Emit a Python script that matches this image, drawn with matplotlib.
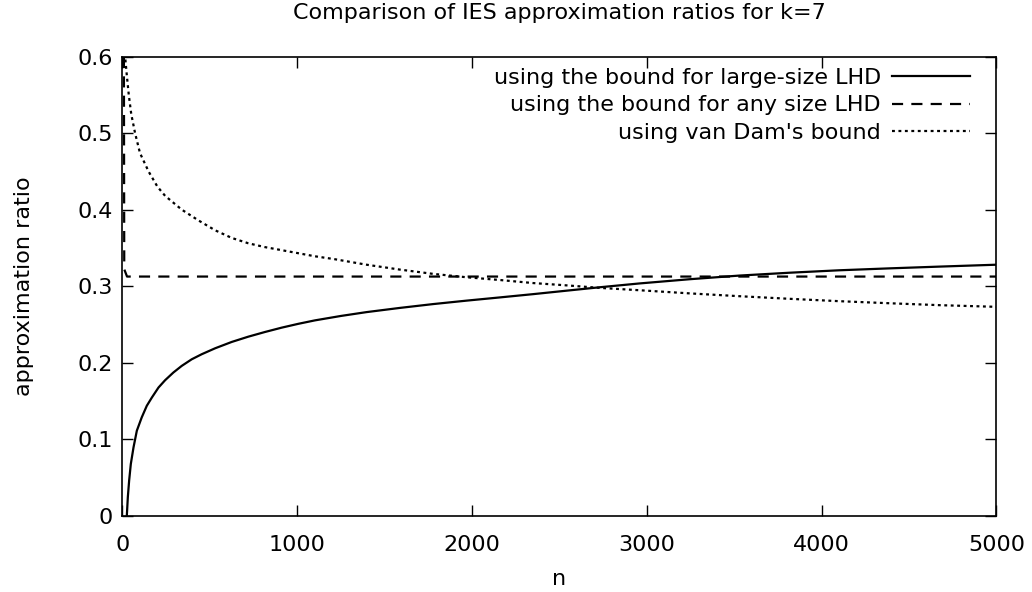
import numpy as np
import matplotlib
matplotlib.use('Agg')
import matplotlib.pyplot as plt

# approximation ratio curves for k=7, read at a set of n values
n_large = [20, 24.8, 30.5, 38, 47.6, 63, 82, 110, 139, 168, 206, 244, 291, 339, 396,
           453, 530, 625, 720, 815, 911, 1006, 1101, 1250, 1396, 1587, 1777, 1968,
           2158, 2349, 2539, 2730, 2958, 3244, 3530, 3815, 4100, 4386, 4672, 5000]
r_large = [-0.03, 0.0, 0.024, 0.0457, 0.0674, 0.0891, 0.1109, 0.1283, 0.1435, 0.1543,
           0.1674, 0.1770, 0.187, 0.1957, 0.2043, 0.2109, 0.2187, 0.2270, 0.2339,
           0.2400, 0.2457, 0.2507, 0.2552, 0.2610, 0.2660, 0.2715, 0.2765, 0.2810,
           0.2852, 0.2895, 0.2940, 0.2985, 0.3035, 0.3090, 0.3138, 0.3175, 0.3207,
           0.3232, 0.3255, 0.3280]

n_any = [6, 8, 10, 26, 5000]
r_any = [0.75, 0.60, 0.322, 0.3125, 0.3125]

n_vdam = [12, 15, 25, 36, 50, 72, 100, 149, 200, 244, 339, 434, 530, 625, 720, 815,
          911, 1006, 1101, 1206, 1396, 1587, 1777, 1968, 2158, 2349, 2539, 2730,
          2958, 3244, 3530, 3815, 4100, 4386, 4672, 5000]
r_vdam = [0.63, 0.60, 0.575, 0.55, 0.525, 0.50, 0.474, 0.45, 0.430, 0.418, 0.400,
          0.386, 0.373, 0.363, 0.356, 0.351, 0.347, 0.343, 0.339, 0.3355, 0.328,
          0.3216, 0.316, 0.3116, 0.308, 0.304, 0.301, 0.2977, 0.2946, 0.2905,
          0.2868, 0.2834, 0.2803, 0.2776, 0.2751, 0.2729]

labels = ['using the bound for large-size LHD',
          'using the bound for any size LHD',
          "using van Dam's bound"]

plt.rcParams['font.family'] = 'DejaVu Sans'
fs = 16

fig = plt.figure(figsize=(10.32, 5.92), dpi=100)
ax = fig.add_axes([0.1187, 0.1292, 0.8469, 0.775])

ax.plot(n_large, r_large, color='black', lw=1.6, label=labels[0])
ax.plot(n_any, r_any, color='black', lw=1.6, dashes=(5, 3.7), label=labels[1])
ax.plot(n_vdam, r_vdam, color='black', lw=1.6, dashes=(1.3, 1.6), label=labels[2])

ax.set_xlim(0, 5000)
ax.set_ylim(0, 0.6)
ax.set_xticks([0, 1000, 2000, 3000, 4000, 5000])
ax.set_yticks([0, 0.1, 0.2, 0.3, 0.4, 0.5, 0.6])
ax.set_yticklabels(['0', '0.1', '0.2', '0.3', '0.4', '0.5', '0.6'])
ax.tick_params(direction='in', length=8, width=1, top=True, right=True,
               labelsize=fs)
ax.tick_params(axis='y', pad=7)
ax.tick_params(axis='x', pad=14)
for s in ax.spines.values():
    s.set_linewidth(1.2)

ax.set_xlabel('n', fontsize=fs, labelpad=10)
ax.set_ylabel('approximation ratio', fontsize=fs, labelpad=31)
ax.set_title('Comparison of IES approximation ratios for k=7', fontsize=fs, pad=27)

ax.legend(loc='upper right', bbox_to_anchor=(0.9747, 0.986), frameon=False,
          markerfirst=False, fontsize=fs, handlelength=3.5, handletextpad=0.5,
          labelspacing=0.35, borderpad=0.2, borderaxespad=0)

plt.savefig('out.png', dpi=100)
